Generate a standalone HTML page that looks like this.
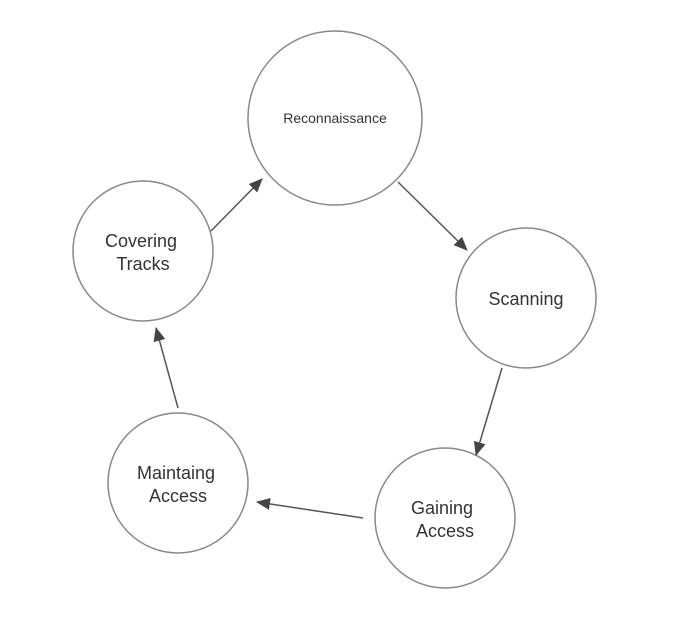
<!DOCTYPE html>
<html><head><meta charset="utf-8"><style>html,body{margin:0;padding:0;background:#fff}</style></head>
<body>
<svg width="695" height="630" viewBox="0 0 695 630" xmlns="http://www.w3.org/2000/svg" font-family="Liberation Sans, sans-serif" fill="#333">
<defs><marker id="a" markerWidth="10" markerHeight="10" refX="9" refY="5" orient="auto" markerUnits="userSpaceOnUse" viewBox="0 0 10 10"><path d="M0,0 L10,5 L0,10 z" fill="#444"/></marker>
<marker id="b" markerWidth="14" markerHeight="14" refX="13" refY="7" orient="auto" markerUnits="userSpaceOnUse" viewBox="0 0 14 14"><path d="M0,1 L14,7 L0,13 z" fill="#444"/></marker></defs>
<g fill="#fff" stroke="#888" stroke-width="1.5">
<circle cx="335" cy="118" r="87"/>
<circle cx="143" cy="251" r="70"/>
<circle cx="526" cy="298" r="70"/>
<circle cx="445" cy="518" r="70"/>
<circle cx="178" cy="483" r="70"/>
</g>
<g stroke="#555" stroke-width="1.5" marker-end="url(#b)">
<line x1="211" y1="231" x2="262" y2="179"/>
<line x1="398" y1="182" x2="467" y2="250"/>
<line x1="502" y1="368" x2="476" y2="455"/>
<line x1="363" y1="518" x2="257" y2="502"/>
<line x1="178" y1="408" x2="156" y2="328"/>
</g>
<g text-anchor="middle" font-size="18">
<text x="335" y="123" font-size="14">Reconnaissance</text>
<text x="141" y="247">Covering</text><text x="143" y="270">Tracks</text>
<text x="526" y="305">Scanning</text>
<text x="442" y="514">Gaining</text><text x="445" y="537">Access</text>
<text x="176" y="479">Maintaing</text><text x="178" y="502">Access</text>
</g>
</svg>
</body></html>
